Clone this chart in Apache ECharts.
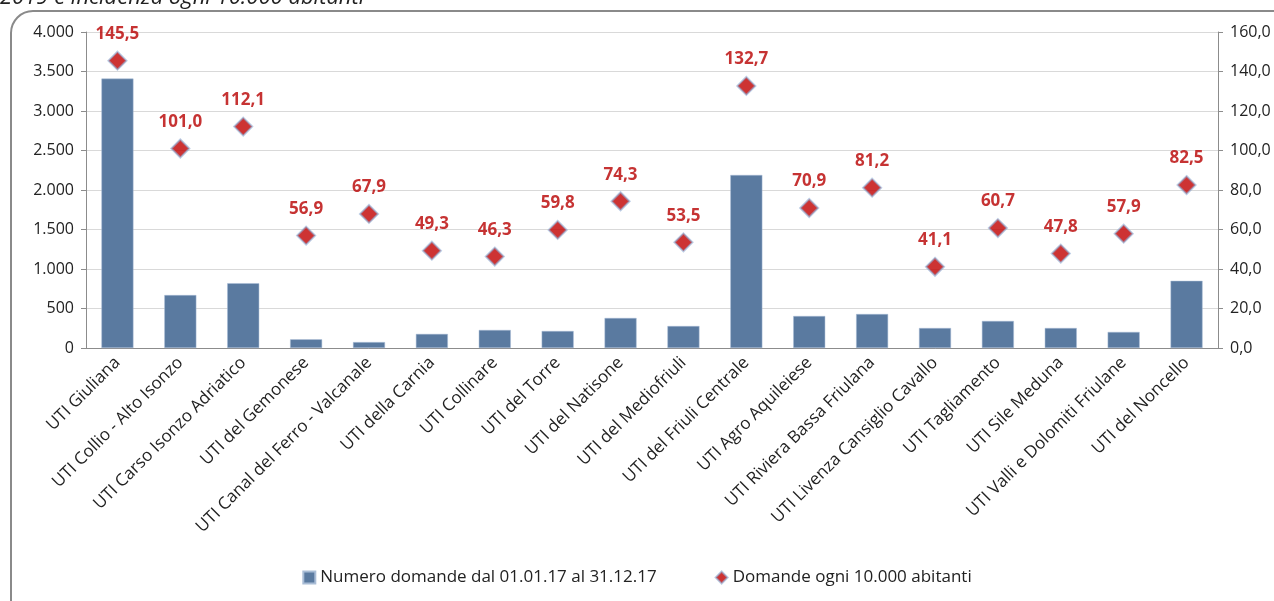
<!DOCTYPE html>
<html>
<head>
<meta charset="utf-8">
<script src="https://cdn.jsdelivr.net/npm/echarts@6/dist/echarts.min.js"></script>
<style>
  html, body { margin: 0; padding: 0; background: #fff; }
  #chart { width: 1274px; height: 601px; }
</style>
</head>
<body>
<div id="chart"></div>
<script>
const categories = [
  'UTI Giuliana', 'UTI Collio - Alto Isonzo', 'UTI Carso Isonzo Adriatico', 'UTI del Gemonese',
  'UTI Canal del Ferro - Valcanale', 'UTI della Carnia', 'UTI Collinare', 'UTI del Torre',
  'UTI del Natisone', 'UTI del Mediofriuli', 'UTI del Friuli Centrale', 'UTI Agro Aquileiese',
  'UTI Riviera Bassa Friulana', 'UTI Livenza Cansiglio Cavallo', 'UTI Tagliamento', 'UTI Sile Meduna',
  'UTI Valli e Dolomiti Friulane', 'UTI del Noncello'
]
const domande = [3410, 670, 820, 110, 75, 178, 228, 215, 380, 278, 2190, 405, 430, 253, 342, 253, 203, 850]
const incidenza = [145.5, 101.0, 112.1, 56.9, 67.9, 49.3, 46.3, 59.8, 74.3, 53.5, 132.7, 70.9, 81.2, 41.1, 60.7, 47.8, 57.9, 82.5]
const seriesNames = ['Numero domande dal 01.01.17 al 31.12.17', 'Domande ogni 10.000 abitanti']
const titleText = '2019 e incidenza ogni 10.000 abitanti'

const fontFamily = '"Open Sans", "Liberation Sans", sans-serif'
const itNum = (v, d) => v.toLocaleString('de-DE', { minimumFractionDigits: d, maximumFractionDigits: d })

let chart = echarts.init(document.getElementById('chart'))
let option = {
  animation: false,
  textStyle: { fontFamily: fontFamily },
  graphic: [
    {
      type: 'rect',
      shape: { x: 11, y: 11, width: 1300, height: 640, r: 22 },
      style: { fill: 'none', stroke: '#8a8a8a', lineWidth: 2 },
      silent: true
    },
    {
      type: 'text',
      left: 0,
      top: -13,
      style: {
        text: titleText,
        font: 'italic 22px ' + fontFamily,
        fill: '#222'
      }
    }
  ],
  legend: {
    bottom: 10,
    left: 'center',
    itemGap: 58,
    itemWidth: 12,
    itemHeight: 12,
    textStyle: { color: '#222', fontSize: 17 },
    data: [
      { name: seriesNames[0], icon: 'rect' },
      { name: seriesNames[1], icon: 'diamond' }
    ]
  },
  grid: {
    left: 86,
    right: 56,
    top: 32,
    bottom: 253
  },
  xAxis: {
    type: 'category',
    data: categories,
    axisLine: { lineStyle: { color: '#8c8c8c' } },
    axisTick: { alignWithLabel: true, length: 5, lineStyle: { color: '#8c8c8c' } },
    axisLabel: {
      rotate: 45,
      interval: 0,
      fontSize: 17,
      color: '#222',
      margin: 12
    }
  },
  yAxis: [
    {
      type: 'value',
      min: 0,
      max: 4000,
      interval: 500,
      axisLine: { show: true, lineStyle: { color: '#8c8c8c' } },
      axisTick: { show: true, length: 5, lineStyle: { color: '#8c8c8c' } },
      axisLabel: {
        fontSize: 16,
        color: '#222',
        margin: 12,
        formatter: v => itNum(v, 0)
      },
      splitLine: { lineStyle: { color: '#d9d9d9' } }
    },
    {
      type: 'value',
      min: 0,
      max: 160,
      interval: 20,
      position: 'right',
      axisLine: { show: true, lineStyle: { color: '#8c8c8c' } },
      axisTick: { show: true, length: 5, lineStyle: { color: '#8c8c8c' } },
      axisLabel: {
        fontSize: 16,
        color: '#222',
        margin: 12,
        formatter: v => itNum(v, 1)
      },
      splitLine: { show: false }
    }
  ],
  series: [
    {
      name: seriesNames[0],
      type: 'bar',
      data: domande,
      barWidth: 32,
      itemStyle: { color: '#5a7aa0', borderColor: '#a9bdd6', borderWidth: 0.5 }
    },
    {
      name: seriesNames[1],
      type: 'scatter',
      yAxisIndex: 1,
      data: incidenza,
      symbol: 'diamond',
      symbolSize: 18,
      itemStyle: {
        color: '#c00000',
        borderColor: 'rgba(140,170,210,0.75)',
        borderWidth: 2
      },
      label: {
        show: true,
        position: 'top',
        distance: 8,
        color: '#b80000',
        fontWeight: 'bold',
        fontSize: 17,
        formatter: p => itNum(p.value, 1)
      }
    }
  ]
}
chart.setOption(option)
</script>
</body>
</html>
